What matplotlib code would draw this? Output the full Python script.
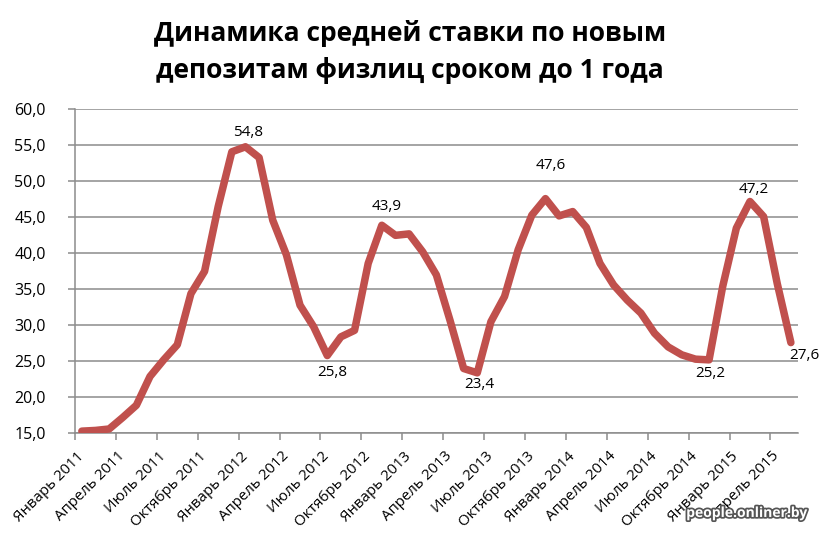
import numpy as np
import matplotlib.pyplot as plt
import matplotlib.patheffects as pe

plt.rcParams['font.family'] = ['Open Sans', 'DejaVu Sans']

# ставка по месяцам, январь 2011 - май 2015
rates = [15.3, 15.4, 15.6, 17.2, 18.9, 22.9, 25.2, 27.3, 34.4, 37.5,
         46.5, 54.1, 54.8, 53.3, 44.6, 39.8, 32.8, 29.8, 25.8, 28.4,
         29.3, 38.6, 43.9, 42.5, 42.7, 40.2, 37.0, 30.7, 24.0, 23.4,
         30.5, 34.0, 40.5, 45.3, 47.6, 45.2, 45.8, 43.6, 38.6, 35.6,
         33.5, 31.7, 28.9, 27.0, 25.9, 25.3, 25.2, 35.4, 43.5, 47.2,
         45.1, 35.8, 27.6]
months = ['Январь', 'Апрель', 'Июль', 'Октябрь']
years = [2011, 2012, 2013, 2014, 2015]
tick_labels = [f'{m} {y}' for y in years for m in months][:18]
y_ticks = [15, 20, 25, 30, 35, 40, 45, 50, 55, 60]

# подписи: индекс точки и сдвиг подписи в пикселях
label_points = [12, 22, 18, 29, 34, 49, 46, 52]
label_offsets = [(3, 14), (5, 19), (5, -17), (2, -12), (5, 33), (4, 12), (1, -14), (13, -13)]

fig = plt.figure(figsize=(8.2, 5.36), dpi=100)
ax = fig.add_axes([0.0915, 0.1916, 0.8813, 0.6044])

x = np.arange(len(rates))
ax.plot(x, rates, color='#C0504D', linewidth=5.4, solid_joinstyle='round',
        solid_capstyle='round', zorder=3)

for i, (dx, dy) in zip(label_points, label_offsets):
    ax.annotate(f'{rates[i]:.1f}'.replace('.', ','), (i, rates[i]), xytext=(dx, dy),
                textcoords='offset pixels', ha='center', va='center', fontsize=11)

ax.set_xlim(-0.5, len(rates) - 0.5)
ax.set_ylim(15, 60)
ax.set_yticks(y_ticks)
ax.set_yticklabels([f'{v:.1f}'.replace('.', ',') for v in y_ticks], fontsize=11.5)
ax.yaxis.grid(True, color='#8c8c8c', linewidth=1.1)

# деления между категориями, подписи по центру категорий
ax.set_xticks(np.arange(-0.5, len(rates) - 1, 3))
ax.set_xticklabels([])
ax.set_xticks(np.arange(0, len(rates), 3), minor=True)
ax.set_xticklabels(tick_labels, minor=True, rotation=45, ha='right', va='center',
                   rotation_mode='anchor', fontsize=10.8)
ax.tick_params(axis='x', which='major', length=5, color='#8c8c8c', width=1.1)
ax.tick_params(axis='x', which='minor', length=0, pad=15)
ax.tick_params(axis='y', length=5, color='#8c8c8c', width=1.1, pad=16)

for side in ['top', 'right']:
    ax.spines[side].set_visible(False)
for side in ['left', 'bottom']:
    ax.spines[side].set_color('#8c8c8c')
    ax.spines[side].set_linewidth(1.1)

fig.text(0.5, 0.903, 'Динамика средней ставки по новым\nдепозитам физлиц сроком до 1 года',
         ha='center', va='center', fontsize=19, fontweight='bold', linespacing=1.5)

fig.text(0.911, 0.043, 'people.onliner.by', ha='center', va='center', fontsize=10,
         fontweight='bold', color='white',
         path_effects=[pe.withStroke(linewidth=2.5, foreground='#555555')])

fig.savefig('out.png', dpi=100)
